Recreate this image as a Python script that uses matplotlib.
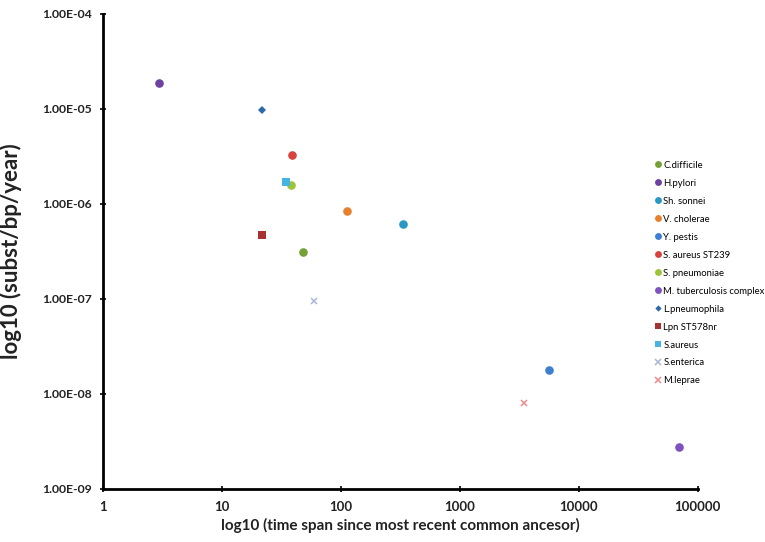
import matplotlib
matplotlib.use("Agg")
import matplotlib.pyplot as plt
from matplotlib.ticker import FixedLocator, FixedFormatter

plt.rcParams['font.family'] = ['Lato', 'DejaVu Sans']

names = ["C.difficile", "H.pylori", "Sh. sonnei", "V. cholerae", "Y. pestis",
         "S. aureus ST239", "S. pneumoniae", "M. tuberculosis complex",
         "L.pneumophila", "Lpn ST578nr", "S.aureus", "S.enterica", "M.leprae"]
time_span = [48, 3, 335, 113, 5600, 39, 38, 70000, 22, 22, 35, 60, 3500]
rate = [3.1e-7, 1.9e-5, 6.2e-7, 8.5e-7, 1.8e-8, 3.3e-6, 1.6e-6, 2.8e-9,
        9.7e-6, 4.7e-7, 1.7e-6, 9.5e-8, 8.0e-9]
colors = ["#77a136", "#6d42a0", "#2b97c3", "#e8812f", "#3e7fd0", "#d9423f",
          "#9cc43a", "#7f52bd", "#2d68ab", "#a83232", "#47b3e0", "#a9b6d6", "#ee8a8a"]
markers = ["o", "o", "o", "o", "o", "o", "o", "o", "D", "s", "s", "x", "x"]
sizes = [6.2, 6.2, 6.2, 6.2, 6.2, 6.2, 6.2, 6.2, 4.0, 6.2, 6.2, 5.0, 5.0]

xticks = [1, 10, 100, 1000, 10000, 100000]
xticklabels = ["1", "10", "100", "1000", "10000", "100000"]
yticks = [1e-9, 1e-8, 1e-7, 1e-6, 1e-5, 1e-4]
yticklabels = ["1.00E-09", "1.00E-08", "1.00E-07", "1.00E-06", "1.00E-05", "1.00E-04"]

fig = plt.figure(figsize=(7.65, 5.42), dpi=100)
ax = fig.add_axes([0.134, 0.0978, 0.778, 0.8764])

handles = []
for n, x, y, c, m, s in zip(names, time_span, rate, colors, markers, sizes):
    mew = 1.1 if m == "x" else 0
    h, = ax.plot([x], [y], linestyle="none", marker=m, color=c, markersize=s,
                 markeredgewidth=mew, label=n)
    handles.append(h)

ax.set_xscale("log")
ax.set_yscale("log")
ax.set_xlim(1, 100000)
ax.set_ylim(1e-9, 1e-4)
ax.xaxis.set_major_locator(FixedLocator(xticks))
ax.xaxis.set_major_formatter(FixedFormatter(xticklabels))
ax.yaxis.set_major_locator(FixedLocator(yticks))
ax.yaxis.set_major_formatter(FixedFormatter(yticklabels))
ax.minorticks_off()

for sp in ["top", "right"]:
    ax.spines[sp].set_visible(False)
for sp in ["left", "bottom"]:
    ax.spines[sp].set_linewidth(2)
    ax.spines[sp].set_color("black")

ax.tick_params(axis="both", which="major", direction="inout", length=5, width=1.2,
               colors="black")
ax.tick_params(axis="x", labelsize=9.5, pad=6)
ax.tick_params(axis="y", labelsize=8.8, pad=5)
for lab in ax.get_xticklabels() + ax.get_yticklabels():
    lab.set_fontweight("bold")
    lab.set_color("#222222")

ax.set_xlabel("log10 (time span since most recent common ancesor)", fontsize=11,
              fontweight="bold", labelpad=4, color="#222222")
ax.set_ylabel("log10 (subst/bp/year)", fontsize=16, fontweight="bold",
              labelpad=11, color="#222222")
ax.yaxis.set_label_coords(-0.135, 0.5)

leg = fig.legend(handles=handles, loc="upper left", bbox_to_anchor=(651 / 765, 1 - 157 / 542),
                 frameon=False, fontsize=6.8, handlelength=0.6, handletextpad=0.3,
                 labelspacing=0.95, markerscale=0.8, borderaxespad=0)

fig.savefig("out.png", dpi=100)
